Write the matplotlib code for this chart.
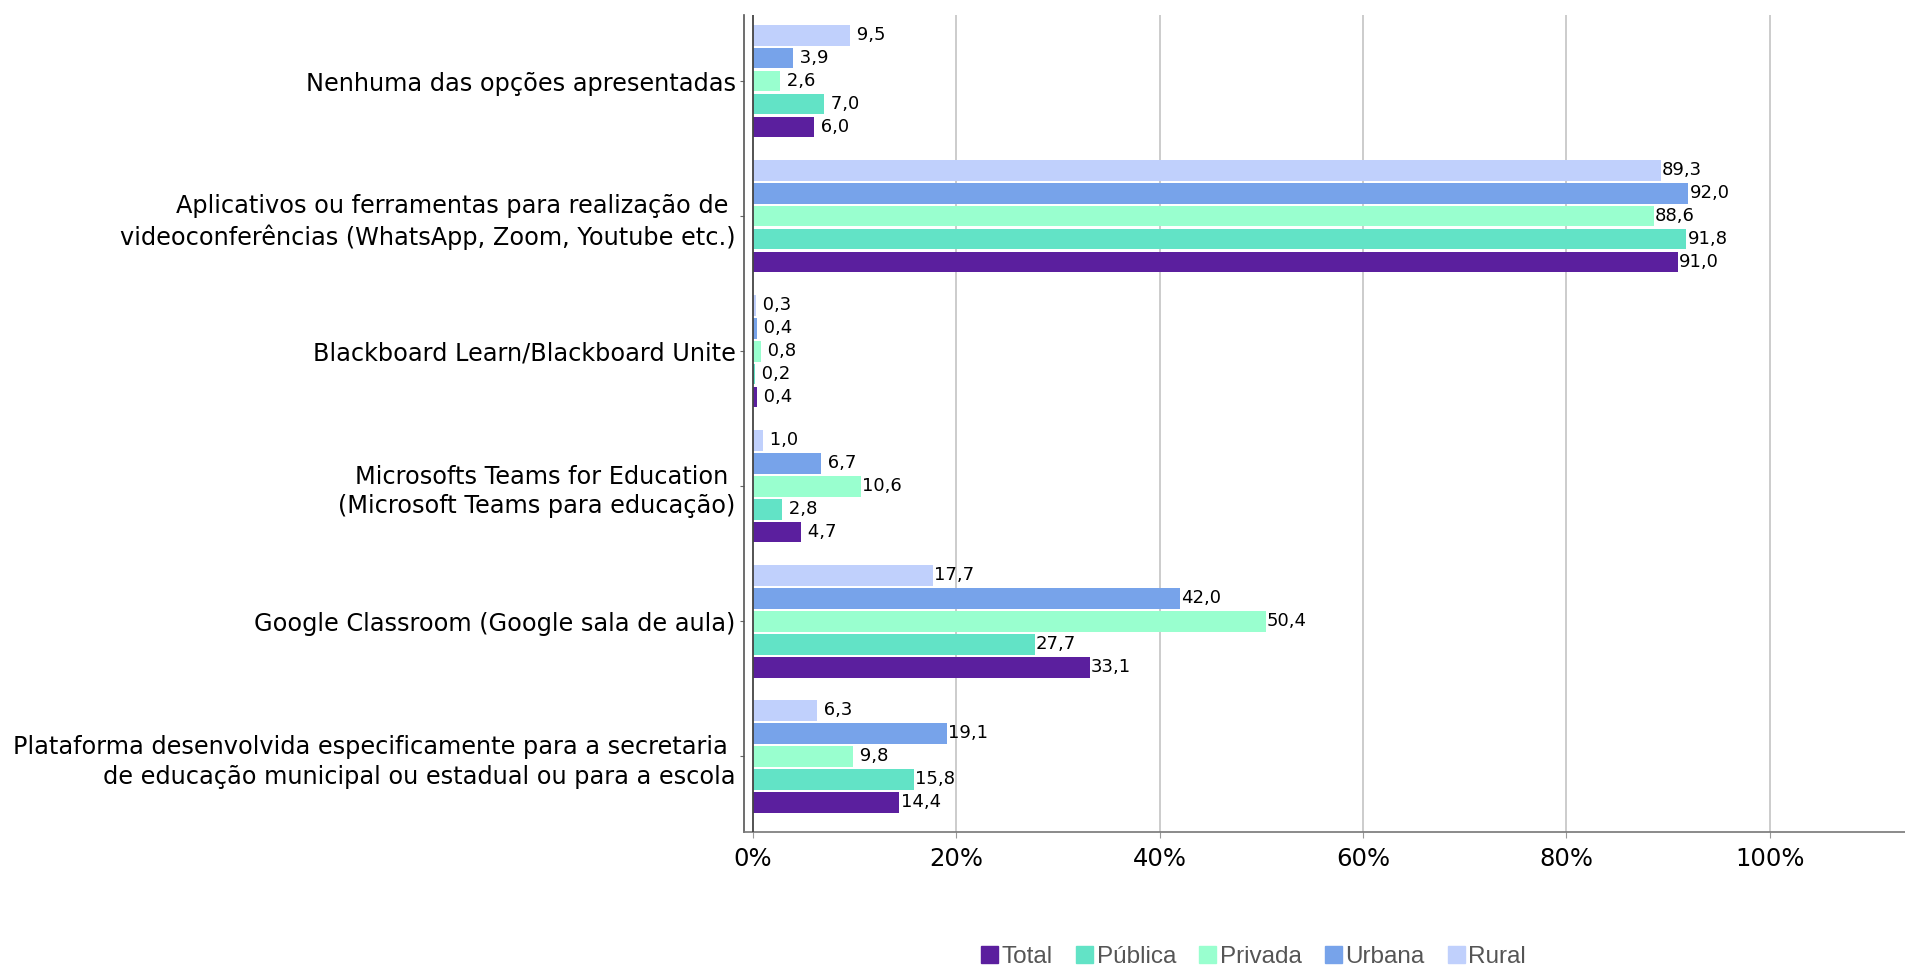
import numpy as np
import matplotlib.pyplot as plt
from matplotlib.patches import Patch

categories = [
    'Nenhuma das opções apresentadas',
    'Aplicativos ou ferramentas para realização de \nvideoconferências (WhatsApp, Zoom, Youtube etc.)',
    'Blackboard Learn/Blackboard Unite',
    'Microsofts Teams for Education \n(Microsoft Teams para educação)',
    'Google Classroom (Google sala de aula)',
    'Plataforma desenvolvida especificamente para a secretaria \nde educação municipal ou estadual ou para a escola',
]
series = ['Total', 'Pública', 'Privada', 'Urbana', 'Rural']
total   = [6.0, 91.0, 0.4, 4.7, 33.1, 14.4]
publica = [7.0, 91.8, 0.2, 2.8, 27.7, 15.8]
privada = [2.6, 88.6, 0.8, 10.6, 50.4, 9.8]
urbana  = [3.9, 92.0, 0.4, 6.7, 42.0, 19.1]
rural   = [9.5, 89.3, 0.3, 1.0, 17.7, 6.3]
xticks = [0, 20, 40, 60, 80, 100]

colors = ['#5b1f9e', '#62e3c6', '#99ffcf', '#77a3ea', '#c0d0fc']
values = [total, publica, privada, urbana, rural]

fig = plt.figure(figsize=(19.05, 9.71), dpi=100)
ax = fig.add_axes([0.3906, 0.1432, 0.6094, 0.8414])

y = np.arange(len(categories))
pitch = 0.17
h = 0.153
# Total at bottom of group, Rural on top
offsets = [2 * pitch, pitch, 0, -pitch, -2 * pitch]
for vals, col, off in zip(values, colors, offsets):
    ax.barh(y + off, vals, height=h, color=col, zorder=3)
    for yi, v in zip(y, vals):
        # fixed width label, one-digit values get a leading space
        ax.text(v + 0.1, yi + off, f'{v:4.1f}'.replace('.', ','), va='center', ha='left',
                fontsize=13, color='black', zorder=4)

ax.set_ylim(5.56, -0.49)
ax.set_xlim(-0.885, 113.3)
ax.set_yticks(y)
ax.set_yticklabels(categories, fontsize=17.3, linespacing=1.3)
ax.set_xticks(xticks)
ax.set_xticklabels([f'{t}%' for t in xticks], fontsize=17.5)
ax.tick_params(axis='y', length=3, color='#666666', pad=3)
ax.tick_params(axis='x', length=4, color='#999999', pad=7)
for t in xticks[1:]:
    ax.axvline(t, color='#c8c8c8', lw=1.3, zorder=1)
ax.axvline(0, color='#444444', lw=1.3, zorder=5)

for s in ['top', 'right']:
    ax.spines[s].set_visible(False)
ax.spines['left'].set_color('#555555')
ax.spines['left'].set_linewidth(1.2)
ax.spines['bottom'].set_color('#777777')
ax.spines['bottom'].set_linewidth(1.2)

handles = [Patch(color=c, label=s) for c, s in zip(colors, series)]
fig.legend(handles=handles, loc='center', bbox_to_anchor=(0.658, 0.014), ncol=5,
           frameon=False, handlelength=0.7, handleheight=0.7, handletextpad=0.15,
           columnspacing=0.95, prop={'family': 'Liberation Sans', 'size': 17.5},
           labelcolor='#555555', borderpad=0)

fig.savefig('out.png', dpi=100)
